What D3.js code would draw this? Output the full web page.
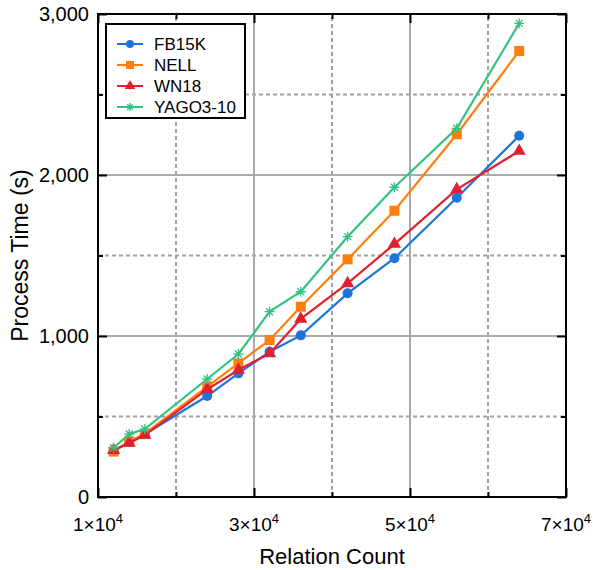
<!DOCTYPE html>
<html>
<head>
<meta charset="utf-8">
<script src="https://d3js.org/d3.v7.min.js"></script>
<style>
  body { margin: 0; background: #fff; }
  text { font-family: "Liberation Sans", Arial, sans-serif; fill: #000; }
</style>
</head>
<body>
<div id="viz"></div>
<script>
// relation counts on the x axis
var relCounts = [12000, 14000, 16000, 24000, 28000, 32000, 36000, 42000, 48000, 56000, 64000];

// process time (s) per dataset
var fb15k  = [287, 342, 390, 627, 768, 902, 1004, 1265, 1483, 1859, 2244];
var nell   = [282, 345, 393, 685, 830, 975, 1182, 1476, 1778, 2253, 2770];
var wn18   = [290, 335, 385, 669, 789, 892, 1106, 1327, 1571, 1911, 2149];
var yago   = [306, 391, 422, 733, 888, 1151, 1275, 1617, 1924, 2290, 2942];

var seriesNames = ["FB15K", "NELL", "WN18", "YAGO3-10"];
var seriesColors = ["#1f74dc", "#ff7f0e", "#e0202f", "#34c282"];
var seriesSymbols = ["circle", "square", "triangle", "asterisk"];

var xMajor = [10000, 30000, 50000, 70000];
var xMinor = [20000, 40000, 60000];
var yMajor = [0, 1000, 2000, 3000];
var yMinor = [500, 1500, 2500];

var W = 593, H = 570;
var margin = {left: 98, right: 27, top: 14, bottom: 73};
var plotW = W - margin.left - margin.right;
var plotH = H - margin.top - margin.bottom;

var svg = d3.select("#viz")
  .append("svg")
  .attr("width", W)
  .attr("height", H);

var x = d3.scaleLinear().domain([10000, 70000]).range([margin.left, margin.left + plotW]);
var y = d3.scaleLinear().domain([0, 3000]).range([margin.top + plotH, margin.top]);

var grid = svg.append("g");

// dashed grid at the minor ticks
grid.selectAll(".vminor").data(xMinor).enter().append("line")
  .attr("x1", x).attr("x2", x)
  .attr("y1", y(0)).attr("y2", y(3000))
  .style("stroke", "#a0a0a0").style("stroke-width", 2).style("stroke-dasharray", "4,3");
grid.selectAll(".hminor").data(yMinor).enter().append("line")
  .attr("y1", y).attr("y2", y)
  .attr("x1", x(10000)).attr("x2", x(70000))
  .style("stroke", "#a0a0a0").style("stroke-width", 2).style("stroke-dasharray", "4,3");

// solid grid at the major ticks
grid.selectAll(".vmajor").data(xMajor.slice(1, 3)).enter().append("line")
  .attr("x1", x).attr("x2", x)
  .attr("y1", y(0)).attr("y2", y(3000))
  .style("stroke", "#aaaaaa").style("stroke-width", 2);
grid.selectAll(".hmajor").data(yMajor.slice(1, 3)).enter().append("line")
  .attr("y1", y).attr("y2", y)
  .attr("x1", x(10000)).attr("x2", x(70000))
  .style("stroke", "#aaaaaa").style("stroke-width", 2);

// axes with inward ticks on all four sides
function tickAxis(axisFn, scale, vals, size, tr) {
  svg.append("g")
    .attr("transform", tr)
    .call(axisFn(scale).tickValues(vals).tickSize(size).tickFormat(""))
    .call(function(g) {
      g.select(".domain").remove();
      g.selectAll("line").style("stroke", "#000").style("stroke-width", 2);
    });
}
var bottomY = y(0), topY = y(3000), leftX = x(10000), rightX = x(70000);
tickAxis(d3.axisTop, x, xMajor, 9, "translate(0," + bottomY + ")");
tickAxis(d3.axisTop, x, xMinor, 5, "translate(0," + bottomY + ")");
tickAxis(d3.axisBottom, x, xMajor, 9, "translate(0," + topY + ")");
tickAxis(d3.axisBottom, x, xMinor, 5, "translate(0," + topY + ")");
tickAxis(d3.axisRight, y, yMajor, 9, "translate(" + leftX + ",0)");
tickAxis(d3.axisRight, y, yMinor, 5, "translate(" + leftX + ",0)");
tickAxis(d3.axisLeft, y, yMajor, 9, "translate(" + rightX + ",0)");
tickAxis(d3.axisLeft, y, yMinor, 5, "translate(" + rightX + ",0)");

// frame
svg.append("rect")
  .attr("x", leftX).attr("y", topY)
  .attr("width", rightX - leftX).attr("height", bottomY - topY)
  .style("fill", "none").style("stroke", "#000").style("stroke-width", 2);

// tick labels
svg.selectAll(".ylab").data(yMajor).enter().append("text")
  .attr("x", leftX - 9)
  .attr("y", function(d) { return y(d) + 7; })
  .attr("text-anchor", "end")
  .style("font-size", "20px")
  .text(d3.format(","));

var xl = svg.selectAll(".xlab").data(xMajor).enter().append("text")
  .attr("x", x)
  .attr("y", 531)
  .attr("text-anchor", "middle")
  .style("font-size", "19px");
xl.append("tspan").text(function(d) { return (d / 10000) + "\u00d710"; });
xl.append("tspan").attr("dy", -8).style("font-size", "13px").text("4");

// axis titles
svg.append("text")
  .attr("x", (leftX + rightX) / 2)
  .attr("y", 564)
  .attr("text-anchor", "middle")
  .style("font-size", "22px")
  .text("Relation Count");
svg.append("text")
  .attr("transform", "translate(28," + ((topY + bottomY) / 2) + ") rotate(-90)")
  .attr("text-anchor", "middle")
  .style("font-size", "23px")
  .text("Process Time (s)");

// lines + markers
var allSeries = [fb15k, nell, wn18, yago];
var line = d3.line()
  .x(function(d, i) { return x(relCounts[i]); })
  .y(function(d) { return y(d); });

function drawMarker(g, sym, color, size) {
  if (sym === "circle") {
    g.append("circle").attr("r", size * 0.5).style("fill", color);
  } else if (sym === "square") {
    g.append("rect").attr("x", -size * 0.5).attr("y", -size * 0.5)
      .attr("width", size).attr("height", size).style("fill", color);
  } else if (sym === "triangle") {
    g.append("path").attr("d", d3.symbol().type(d3.symbolTriangle).size(size * size * 0.75)).style("fill", color);
  } else {
    var r = size * 0.5;
    var p = "M0," + (-r) + "L0," + r + "M" + (-r) + ",0L" + r + ",0" +
      "M" + (-r * 0.7) + "," + (-r * 0.7) + "L" + (r * 0.7) + "," + (r * 0.7) +
      "M" + (-r * 0.7) + "," + (r * 0.7) + "L" + (r * 0.7) + "," + (-r * 0.7);
    g.append("path").attr("d", p).style("stroke", color).style("stroke-width", 1.3).style("fill", "none");
  }
}

allSeries.forEach(function(vals, k) {
  svg.append("path")
    .datum(vals)
    .attr("d", line)
    .style("fill", "none")
    .style("stroke", seriesColors[k])
    .style("stroke-width", 2.2);
  vals.forEach(function(v, i) {
    var g = svg.append("g").attr("transform", "translate(" + x(relCounts[i]) + "," + y(v) + ")");
    drawMarker(g, seriesSymbols[k], seriesColors[k], 10);
  });
});

// legend
var leg = svg.append("g").attr("transform", "translate(106,24)");
leg.append("rect")
  .attr("width", 139).attr("height", 94)
  .style("fill", "#fff").style("stroke", "#000").style("stroke-width", 2);
seriesNames.forEach(function(name, k) {
  var ly = 20 + k * 21;
  leg.append("line")
    .attr("x1", 11).attr("x2", 37).attr("y1", ly).attr("y2", ly)
    .style("stroke", seriesColors[k]).style("stroke-width", 2);
  var g = leg.append("g").attr("transform", "translate(24," + ly + ")");
  drawMarker(g, seriesSymbols[k], seriesColors[k], 8);
  leg.append("text")
    .attr("x", 48).attr("y", ly + 6)
    .style("font-size", "17px")
    .text(name);
});
</script>
</body>
</html>
